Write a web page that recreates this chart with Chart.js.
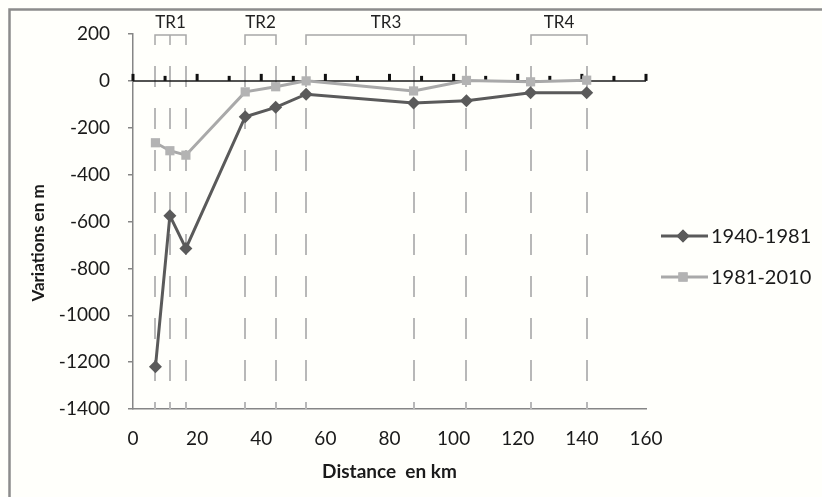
<!DOCTYPE html>
<html>
<head>
<meta charset="utf-8">
<style>
  html,body{margin:0;padding:0;background:#fffffb;}
  #wrap{width:822px;height:497px;position:relative;}
</style>
<script src="https://cdn.jsdelivr.net/npm/chart.js@4.4.1/dist/chart.umd.min.js"></script>
</head>
<body>
<div id="wrap"><canvas id="c" width="822" height="497"></canvas></div>
<script>
// ---- data ----
const distances = [7, 11.5, 16.5, 35, 44.5, 54, 87.5, 104, 124, 141.5];
const serie1940 = [-1220, -575, -715, -153, -113, -57, -94, -85, -51, -51];
const serie1981 = [-264, -298, -317, -47, -25, 0, -43, 2, -4, 3];
const seriesNames = ['1940-1981', '1981-2010'];
const trLabels = ['TR1', 'TR2', 'TR3', 'TR4'];
const trFirst = [0, 3, 5, 8];
const trLast = [2, 4, 7, 9];
const trMiddle = [1, null, 6, null];
const xTicks = [0, 20, 40, 60, 80, 100, 120, 140, 160];
const yTicks = [200, 0, -200, -400, -600, -800, -1000, -1200, -1400];

const DARK = '#5a5a5a';
const LIGHT = '#a9a9a9';
const LIGHT_PT = '#b3b3b3';

const decor = {
  id: 'decor',
  beforeDraw(chart) {
    const ctx = chart.ctx;
    ctx.save();
    ctx.fillStyle = '#fffffb';
    ctx.fillRect(0, 0, chart.width, chart.height);
    ctx.strokeStyle = '#8c8c8c';
    ctx.lineWidth = 2.5;
    ctx.beginPath();
    ctx.moveTo(9.5, chart.height);
    ctx.lineTo(9.5, 9.5);
    ctx.lineTo(chart.width, 9.5);
    ctx.stroke();
    ctx.restore();
  },
  beforeDatasetsDraw(chart) {
    const { ctx, scales: { x, y }, chartArea: ca } = chart;
    ctx.save();
    // dashed verticals
    ctx.strokeStyle = '#b8b8b8';
    ctx.lineWidth = 2;
    ctx.setLineDash([21, 21]);
    distances.forEach(d => {
      const px = Math.round(x.getPixelForValue(d));
      ctx.beginPath();
      ctx.moveTo(px, ca.top + 32);
      ctx.lineTo(px, ca.bottom);
      ctx.stroke();
    });
    ctx.setLineDash([]);
    // brackets
    ctx.strokeStyle = '#a8a8a8';
    ctx.lineWidth = 1.5;
    const by = ca.top + 1;
    trLabels.forEach((lab, i) => {
      const x1 = Math.round(x.getPixelForValue(distances[trFirst[i]]));
      const x2 = Math.round(x.getPixelForValue(distances[trLast[i]]));
      ctx.beginPath();
      ctx.moveTo(x1, by + 10); ctx.lineTo(x1, by); ctx.lineTo(x2, by); ctx.lineTo(x2, by + 10);
      if (trMiddle[i] !== null) {
        const xm = Math.round(x.getPixelForValue(distances[trMiddle[i]]));
        ctx.moveTo(xm, by); ctx.lineTo(xm, by + 10);
      }
      ctx.stroke();
      ctx.fillStyle = '#222';
      ctx.font = '17px Lato';
      ctx.textAlign = 'center';
      ctx.textBaseline = 'middle';
      ctx.fillText(lab, (x1 + x2) / 2, ca.top - 11);
    });
    // zero line with ticks
    const y0 = y.getPixelForValue(0);
    ctx.strokeStyle = '#1a1a1a';
    ctx.lineWidth = 1.5;
    ctx.beginPath();
    ctx.moveTo(ca.left, y0); ctx.lineTo(ca.right, y0);
    ctx.stroke();
    ctx.fillStyle = '#111';
    for (let v = 0; v <= 160; v += 10) {
      const px = x.getPixelForValue(v);
      const h = (v % 20 === 0) ? 7 : 5;
      ctx.fillRect(px - 1.5, y0 - h, 3, h);
    }
    ctx.restore();
  },
  afterDraw(chart) {
    const ctx = chart.ctx;
    ctx.save();
    // y title
    ctx.fillStyle = '#1a1a1a';
    ctx.font = 'bold 17px Lato';
    ctx.textAlign = 'center';
    ctx.textBaseline = 'middle';
    ctx.translate(39, 243);
    ctx.rotate(-Math.PI / 2);
    ctx.fillText('Variations en m', 0, 0);
    ctx.restore();
    // legend
    ctx.save();
    const items = [
      { name: seriesNames[0], color: DARK, pt: DARK, style: 'rectRot', r: 6.5, y: 236 },
      { name: seriesNames[1], color: LIGHT, pt: LIGHT_PT, style: 'rect', r: 6.5, y: 277 }
    ];
    items.forEach(it => {
      ctx.strokeStyle = it.color;
      ctx.lineWidth = 3;
      ctx.beginPath();
      ctx.moveTo(661, it.y); ctx.lineTo(708, it.y);
      ctx.stroke();
      ctx.fillStyle = it.pt;
      Chart.helpers.drawPoint(ctx, { pointStyle: it.style, radius: it.r, borderWidth: 0 }, 683, it.y);
      ctx.fill();
      ctx.fillStyle = '#1a1a1a';
      ctx.font = '20px Lato';
      ctx.textAlign = 'left';
      ctx.textBaseline = 'middle';
      ctx.fillText(it.name, 711, it.y + 1);
    });
    ctx.restore();
  }
};

const toXY = arr => arr.map((v, i) => ({ x: distances[i], y: v }));

new Chart(document.getElementById('c'), {
  type: 'line',
  data: {
    datasets: [
      {
        label: seriesNames[0], data: toXY(serie1940),
        borderColor: DARK, backgroundColor: DARK, borderWidth: 3,
        pointStyle: 'rectRot', pointRadius: 6.5, pointBorderWidth: 0,
        pointBackgroundColor: DARK, tension: 0
      },
      {
        label: seriesNames[1], data: toXY(serie1981),
        borderColor: LIGHT, backgroundColor: LIGHT_PT, borderWidth: 3,
        pointStyle: 'rect', pointRadius: 6.5, pointBorderWidth: 0,
        pointBackgroundColor: LIGHT_PT, tension: 0
      }
    ]
  },
  options: {
    responsive: false,
    animation: false,
    devicePixelRatio: 1,
    layout: { padding: { left: 0, top: 34, right: 176, bottom: 0 } },
    plugins: { legend: { display: false }, tooltip: { enabled: false } },
    scales: {
      x: {
        type: 'linear', min: 0, max: 160,
        afterBuildTicks: s => { s.ticks = xTicks.map(v => ({ value: v })); },
        afterFit: s => { s.height = 88; },
        grid: { display: false, drawTicks: false },
        border: { display: true, color: '#868686', width: 1.5 },
        ticks: { font: { size: 19, family: 'Lato' }, color: '#1a1a1a', padding: 18, maxRotation: 0,
                 callback: v => String(v) },
        title: { display: true, text: 'Distance  en km', font: { size: 19, weight: 'bold', family: 'Lato' }, color: '#1a1a1a', padding: { top: 6, bottom: 14 } }
      },
      y: {
        min: -1400, max: 200,
        afterBuildTicks: s => { s.ticks = yTicks.map(v => ({ value: v })); },
        afterFit: s => { s.width = 133; },
        grid: { drawOnChartArea: false, drawTicks: true, tickLength: 5, color: '#868686', lineWidth: 1.5 },
        border: { display: true, color: '#868686', width: 1.5 },
        ticks: { font: { size: 19, family: 'Lato' }, color: '#1a1a1a', padding: 18, callback: v => String(v) }
      }
    }
  },
  plugins: [decor]
});
</script>
</body>
</html>
